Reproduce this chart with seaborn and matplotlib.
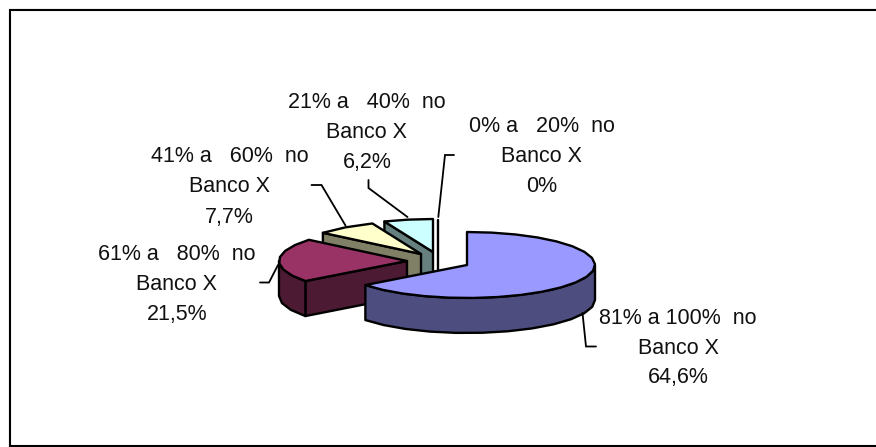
import numpy as np
import matplotlib
matplotlib.use("Agg")
import matplotlib.pyplot as plt
import seaborn as sns

# ---- data ----
categories = ["81% a 100%  no\nBanco X", "61% a   80%  no\nBanco X", "41% a   60%  no\nBanco X",
              "21% a   40%  no\nBanco X", "0% a   20%  no\nBanco X"]
values = [64.6, 21.5, 7.7, 6.2, 0.0]
value_labels = ["64,6%", "21,5%", "7,7%", "6,2%", "0%"]

# ---- style / layout ----
top_colors = ["#9999FF", "#993366", "#FFFFCC", "#CCFFFF", "#FFFFFF"]
side_colors = ["#4D4D80", "#4D1A33", "#808066", "#668080", "#808080"]
apexes = [(467, 265), (407, 261), (421, 254), (433, 252), (438, 253)]
label_centers = [(678, 348), (177, 284.5), (229.5, 187), (367, 132.5), (541.5, 156.5)]
leaders = [[(582.5, 313), (586, 346.5), (596, 346.5)],
           [(278, 265), (269, 282.5), (260, 282.5)],
           [(345.5, 225.5), (321.5, 185), (311.5, 185)],
           [(407.5, 217), (368.5, 188), (368.5, 180)],
           [(438.3, 217), (445, 155), (454, 155)]]
draw_order = [3, 4, 2, 1, 0]
RX, RY, DEPTH = 128, 33, 35
STEP = 11
LW = 1.7

sns.set_theme(style="white")
plt.rcParams["font.family"] = ["Liberation Sans", "DejaVu Sans"]
palette = sns.color_palette(top_colors)
side_palette = sns.color_palette(side_colors)

fig = plt.figure(figsize=(8.76, 4.47), dpi=100, facecolor="white")
ax = fig.add_axes([0, 0, 1, 1])
ax.set_xlim(0, 876)
ax.set_ylim(447, 0)
ax.axis("off")

# chart frame, open on the right, with its soft grey edge
ax.plot([876, 8.5, 8.5], [8.5, 8.5, 447], color="#B0B0B0", lw=0.8, zorder=0)
ax.plot([876, 10, 10, 876], [10, 10, 445.5, 445.5], color="black", lw=1.5,
        solid_joinstyle="miter", zorder=1)


def arc(apex, a0, a1):
    n = max(int(abs(a1 - a0) / STEP), 1) + 1
    t = np.radians(np.linspace(a0, a1, n))
    return np.column_stack([apex[0] + RX * np.sin(t), apex[1] - RY * np.cos(t)])


def face(pts, color, z):
    ax.fill(pts[:, 0], pts[:, 1], facecolor=color, edgecolor="black", lw=LW,
            joinstyle="round", zorder=z)


cum = np.concatenate([[0], np.cumsum(values)]) / sum(values) * 360
down = np.array([0, DEPTH])
for z, i in enumerate(draw_order):
    a0, a1 = cum[i], cum[i + 1]
    apex = apexes[i]
    base = 2 + z * 3
    if values[i] > 0:
        # cut side, when it faces the viewer
        if 180 < a0 < 360:
            outer = arc(apex, a0, a0)[0]
            pts = np.array([apex, outer, outer + down, np.array(apex) + down])
            face(pts, side_palette[i], base)
        # outer wall, front half only
        lo, hi = max(a0, 90), min(a1, 270)
        if hi > lo:
            top = arc(apex, lo, hi)
            face(np.vstack([top, (top + down)[::-1]]), side_palette[i], base + 1)
        rim = arc(apex, a0, a1)
        face(np.vstack([[apex], rim]), palette[i], base + 2)
    else:
        # an empty slice collapses to a single upright edge
        outer = arc(apex, a0, a0)[0]
        ax.plot([outer[0], apex[0], apex[0]], [outer[1], apex[1], apex[1] + DEPTH],
                color="black", lw=LW, zorder=base)

for i, (cx, cy) in enumerate(label_centers):
    xs, ys = zip(*leaders[i])
    ax.plot(xs, ys, color="black", lw=1.3, solid_joinstyle="miter", zorder=30)
    lines = categories[i].split("\n") + [value_labels[i]]
    for k, line in enumerate(lines):
        ax.text(cx, cy + (k - 1) * 30, line, ha="center", va="center",
                fontsize=15.5, color="#111111", zorder=31)

fig.savefig("out.png", dpi=100)
